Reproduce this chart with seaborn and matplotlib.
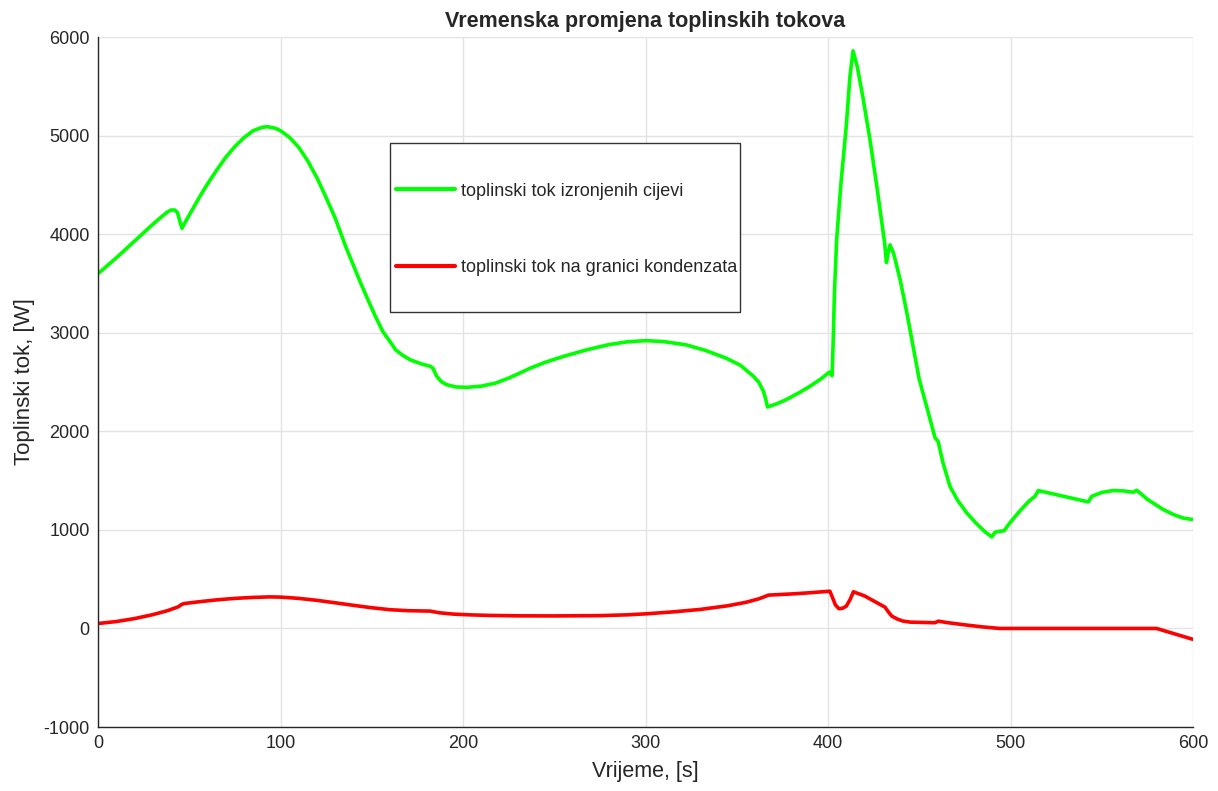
#!/usr/bin/env python3

import matplotlib
matplotlib.use("Agg")
import matplotlib.pyplot as plt
from matplotlib.patches import Rectangle
import pandas as pd
import seaborn as sns


# green: heat flux of the emerged tubes
t_green = [0, 5, 10, 15, 20, 25, 30, 35, 38, 40, 42, 43.5, 45, 46, 48, 52, 56, 60, 65, 70,
           75, 80, 85, 90, 93, 97, 100, 105, 110, 115, 120, 125, 130, 136, 140, 144, 148,
           152, 156, 160, 163, 167, 171, 177, 182, 183.5, 185.5, 188, 191, 196, 202, 210,
           218, 225, 231, 237, 245, 255, 268, 280, 290, 300, 310, 322, 333, 344, 352, 359,
           362, 364.6, 365.8, 366.8, 372, 377, 384, 390, 396, 400.7, 402.2, 402.8, 403.5,
           404.7, 407, 410, 412, 413.7, 416, 419, 423, 427, 431, 432, 433, 434, 436, 439.5,
           443, 446.6, 450, 454, 458.6, 460.3, 463, 466.8, 471, 476, 481, 486, 489.7, 491.5,
           493.5, 496.4, 500, 505, 510, 513.4, 515.2, 542.6, 544.5, 550, 556.3, 562,
           567.3, 569.1, 575, 583.7, 590, 595, 600]
q_green = [3600, 3680, 3760, 3845, 3930, 4015, 4100, 4180, 4225, 4245, 4245, 4220, 4120,
           4060, 4130, 4260, 4390, 4510, 4650, 4780, 4890, 4980, 5050, 5085, 5090, 5075,
           5050, 4980, 4880, 4740, 4570, 4370, 4160, 3860, 3680, 3500, 3330, 3165, 3013,
           2910, 2828, 2770, 2726, 2685, 2660, 2640, 2560, 2505, 2473, 2450, 2446, 2458,
           2490, 2540, 2590, 2642, 2700, 2760, 2828, 2880, 2908, 2920, 2910, 2878, 2820,
           2743, 2670, 2560, 2500, 2406, 2330, 2247, 2280, 2321, 2390, 2456, 2530, 2600,
           2564, 2900, 3400, 3940, 4500, 5100, 5600, 5860, 5700, 5400, 4956, 4450, 3912,
           3712, 3820, 3892, 3800, 3537, 3220, 2861, 2524, 2253, 1936, 1898, 1680, 1442,
           1300, 1172, 1070, 980, 929, 976, 985, 990, 1080, 1189, 1290, 1341, 1399, 1284,
           1341, 1380, 1399, 1395, 1382, 1402, 1310, 1206, 1150, 1118, 1105]

# red: heat flux at the condensate boundary
t_red = [0, 10, 20, 30, 38, 44, 45.5, 47, 55, 65, 75, 85, 94, 100, 110, 120, 130, 141.7,
         150, 160, 170, 182, 187, 195, 205, 215, 230, 250, 275, 290, 300, 315, 330, 345,
         355, 362, 364.6, 367.3, 380, 390, 401, 402.5, 404, 406, 408, 410, 412, 413.9,
         420, 431.2, 433, 434.9, 438, 441, 445, 458.6, 460.4, 465, 476, 485, 494, 580, 600]
q_red = [50, 70, 100, 140, 180, 220, 240, 252, 270, 290, 305, 315, 320, 318, 305, 285,
         260, 230, 210, 190, 180, 176, 159, 145, 137, 132, 128, 127, 130, 138, 148, 168,
         193, 230, 265, 300, 318, 338, 350, 362, 378, 311, 240, 200, 205, 226, 290, 372,
         330, 216, 170, 125, 95, 75, 64, 58, 74, 60, 34, 15, 0, 0, -111]

labels = ["toplinski tok izronjenih cijevi", "toplinski tok na granici kondenzata"]

df = pd.concat([
    pd.DataFrame({"t": t_green, "q": q_green, "serija": labels[0]}),
    pd.DataFrame({"t": t_red, "q": q_red, "serija": labels[1]}),
])

sns.set_style("white")
plt.rcParams["font.family"] = ["Liberation Sans", "DejaVu Sans"]
plt.rcParams["axes.unicode_minus"] = False

fig = plt.figure(figsize=(12.18, 7.91), dpi=100)
ax = fig.add_axes([0.0805, 0.0809, 0.899, 0.8723])

sns.lineplot(data=df, x="t", y="q", hue="serija", sort=False, estimator=None,
             palette=["#00ff00", "#ff0000"], linewidth=2.6, ax=ax)

ax.set_xlim(0, 600)
ax.set_ylim(-1000, 6000)
ax.set_xticks(range(0, 601, 100))
ax.set_yticks(range(-1000, 6001, 1000))
ax.grid(True, color="#e3e3e3", linewidth=1)
ax.set_axisbelow(True)
for s in ["top", "right"]:
    ax.spines[s].set_visible(False)
for s in ["left", "bottom"]:
    ax.spines[s].set_color("#262626")
    ax.spines[s].set_linewidth(1)
ax.tick_params(direction="in", length=8, width=1, color="#262626",
               labelsize=13, labelcolor="#262626", pad=6)

ax.set_title("Vremenska promjena toplinskih tokova", fontsize=15.5, fontweight="bold", pad=7)
ax.set_xlabel("Vrijeme, [s]", fontsize=15.5, color="#262626", labelpad=6)
ax.set_ylabel("Toplinski tok, [W]", fontsize=16, color="#262626", labelpad=6)

# legend box drawn separately (tall box, tight sides like the original)
ax.add_patch(Rectangle((0.2667, 0.601), 0.3196, 0.245, transform=ax.transAxes,
                       facecolor="white", edgecolor="#333333", linewidth=1, zorder=4))
leg = ax.legend(loc="upper left", bbox_to_anchor=(0.272, 0.789), fontsize=13,
                labelspacing=3.3, handlelength=3.3, handletextpad=0.3,
                borderpad=0, borderaxespad=0, frameon=False)
leg.set_zorder(5)
for h in leg.get_lines():
    h.set_linewidth(3)

plt.savefig("out.png", dpi=100)
